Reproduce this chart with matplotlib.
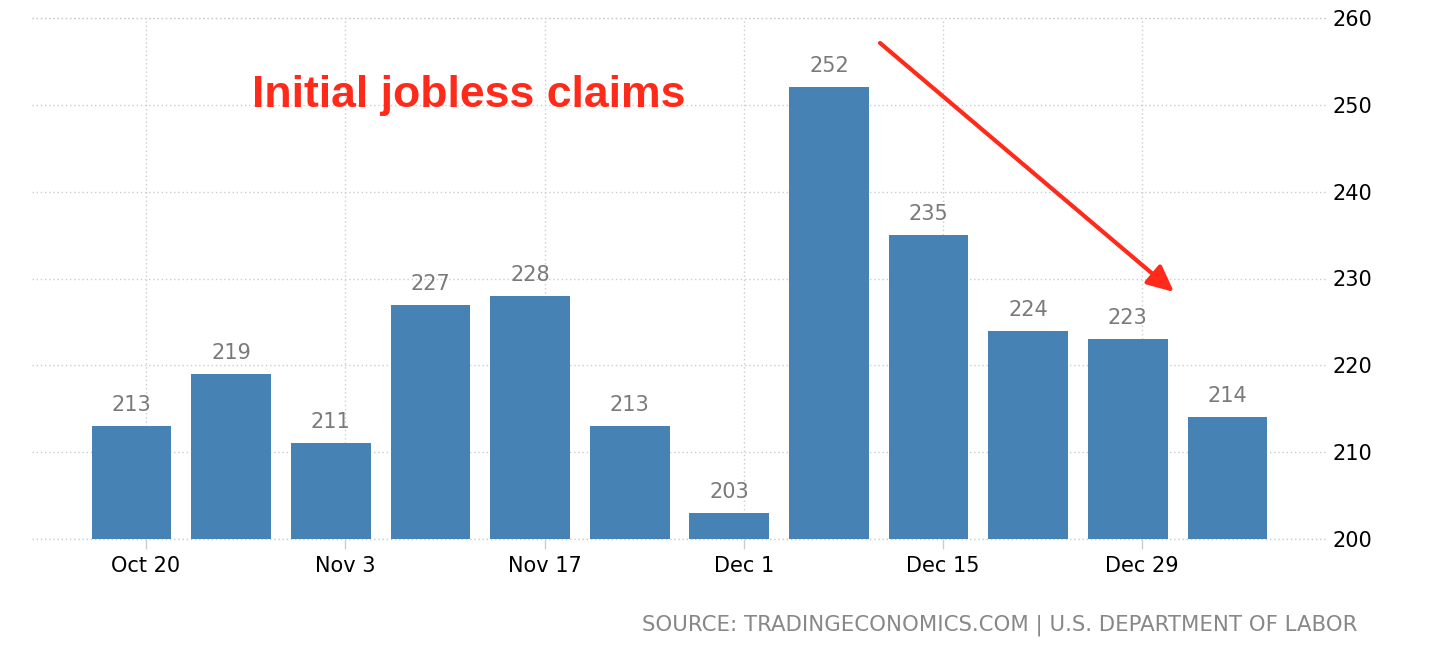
import matplotlib
matplotlib.use("Agg")
import matplotlib.pyplot as plt
import numpy as np

values = [213, 219, 211, 227, 228, 213, 203, 252, 235, 224, 223, 214]
tick_labels = ["Oct 20", "Nov 3", "Nov 17", "Dec 1", "Dec 15", "Dec 29"]
tick_bar_index = [0, 2, 4, 6, 8, 10]
y_ticks = [200, 210, 220, 230, 240, 250, 260]

W, H = 1432, 650
fig = plt.figure(figsize=(W / 100, H / 100), dpi=100)
ax = fig.add_axes([32 / W, 1 - 539 / H, (1327 - 32) / W, (539 - 18) / H])

x = np.arange(len(values))
ax.bar(x, values, width=0.80, color="#4682B4", zorder=2)
ax.set_ylim(200, 260)
ax.set_xlim(-1.0, 12.0)

for xi, v in zip(x, values):
    ax.annotate(str(v), (xi, v), xytext=(0, 10.8), textcoords="offset points",
                ha="center", va="baseline", fontsize=15, color="#7a7a7a",
                family="DejaVu Sans", zorder=3)

tick_pos = [i + 0.145 for i in tick_bar_index]
ax.set_xticks(tick_pos)
ax.set_xticklabels(tick_labels, fontsize=15, color="black")
ax.set_yticks(y_ticks)
ax.yaxis.tick_right()
ax.tick_params(axis="y", length=0, pad=4, labelsize=15, labelcolor="black")
ax.tick_params(axis="x", length=7, width=1, color="#cccccc", pad=5)
for lab in ax.get_yticklabels():
    lab.set_horizontalalignment("left")

grid_style = dict(color="#cccccc", linestyle=(0, (1, 2)), linewidth=1)
ax.grid(True, zorder=0, **grid_style)
ax.axhline(200, clip_on=False, zorder=1, **grid_style)
ax.axhline(260, clip_on=False, zorder=1, **grid_style)
ax.set_axisbelow(True)
for s in ax.spines.values():
    s.set_visible(False)

fig.text(252 / W, 1 - 106.7 / H, "Initial jobless claims", fontsize=32.1,
         fontweight="bold", color="#ff2a1a", family="Liberation Sans",
         ha="left", va="baseline")

fig.text(1357 / W, 1 - 631 / H,
         "SOURCE: TRADINGECONOMICS.COM | U.S. DEPARTMENT OF LABOR",
         fontsize=15.3, color="#888888", ha="right", va="baseline")

ax.annotate("", xy=(1174 / W, 1 - 292 / H), xytext=(880 / W, 1 - 43 / H),
            xycoords="figure fraction", textcoords="figure fraction",
            arrowprops=dict(arrowstyle="-|>,head_length=1.6,head_width=0.75",
                            color="#ff2a1a", lw=3.0, shrinkA=0, shrinkB=0))

fig.savefig("out.png", dpi=100)
